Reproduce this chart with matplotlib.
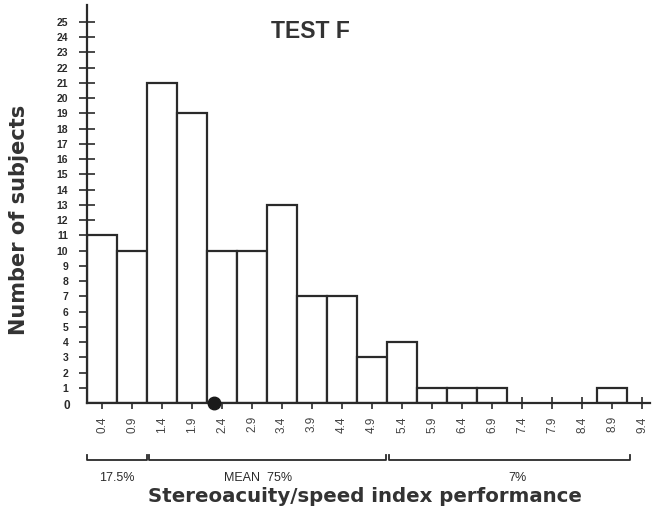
import matplotlib
matplotlib.use("Agg")
import matplotlib.pyplot as plt

# Data
bin_centers = [0.4, 0.9, 1.4, 1.9, 2.4, 2.9, 3.4, 3.9, 4.4, 4.9,
               5.4, 5.9, 6.4, 6.9, 7.4, 7.9, 8.4, 8.9, 9.4]
tick_labels = ["0.4", "0.9", "1.4", "1.9", "2.4", "2.9", "3.4", "3.9", "4.4", "4.9",
               "5.4", "5.9", "6.4", "6.9", "7.4", "7.9", "8.4", "8.9", "9.4"]
counts = [11, 10, 21, 19, 10, 10, 13, 7, 7, 3, 4, 1, 1, 1, 0, 0, 0, 1, 0]
mean_value = 2.27
groups = [("17.5%", 0.15, 1.15), ("MEAN  75%", 1.18, 5.13), ("7%", 5.18, 9.2)]
group_label_x = [0.65, 3.0, 7.33]

plt.rcParams['font.family'] = ['Liberation Sans', 'DejaVu Sans']
INK = "#2a2a2a"

fig = plt.figure(figsize=(6.54, 5.29), dpi=100)
W, H = 654, 529
ax = fig.add_axes([87 / W, 1 - 403 / H, (650 - 87) / W, (403 - 5) / H])
ax.set_xlim(0.15, 0.15 + (650 - 87) / 60)
ax.set_ylim(0, 26.1)

nonzero = [(c, v) for c, v in zip(bin_centers, counts) if v > 0]
ax.bar([c for c, _ in nonzero], [v for _, v in nonzero], width=0.5,
       facecolor="white", edgecolor=INK, linewidth=1.6, zorder=2)

for s in ("top", "right"):
    ax.spines[s].set_visible(False)
for s in ("left", "bottom"):
    ax.spines[s].set_color(INK)
    ax.spines[s].set_linewidth(1.6)

ax.set_yticks(range(1, 26))
ax.set_yticklabels([str(i) for i in range(1, 26)], fontsize=7.5, fontweight="bold", color=INK)
ax.tick_params(axis="y", direction="inout", length=11, width=1.2, color=INK, pad=8)

ax.set_xticks(bin_centers)
ax.set_xticklabels(tick_labels, rotation=90, fontsize=8.5, color="#444444")
ax.tick_params(axis="x", direction="inout", length=9, width=1.2, color=INK, pad=5)

fig.text(67 / W, 1 - 406 / H, "0", ha="center", va="center",
         fontsize=8.5, fontweight="bold", color=INK)

# mean marker
ax.plot([mean_value], [0], "o", color="#1a1a1a", markersize=9, clip_on=False, zorder=5)

# brackets
yb, yt, ytxt = -3.74, -3.41, -4.55
for (lab, x0, x1), lx in zip(groups, group_label_x):
    ax.plot([x0, x0, x1, x1], [yt, yb, yb, yt], color=INK, linewidth=1.3, clip_on=False)
    ax.text(lx, ytxt, lab, ha="center", va="top", fontsize=9, color=INK, clip_on=False)

fig.text(310 / W, 1 - 32 / H, "TEST F", ha="center", va="center",
         fontsize=16.5, fontweight="bold", color="#333333")
fig.text(19 / W, 1 - 220 / H, "Number of subjects", rotation=90, ha="center", va="center",
         fontsize=15, fontweight="bold", color="#333333", family="DejaVu Sans")
fig.text(365 / W, 1 - 497 / H, "Stereoacuity/speed index performance", ha="center",
         va="center", fontsize=14.2, fontweight="bold", color="#333333", family="DejaVu Sans")

fig.savefig("out.png", dpi=100, facecolor="white")
